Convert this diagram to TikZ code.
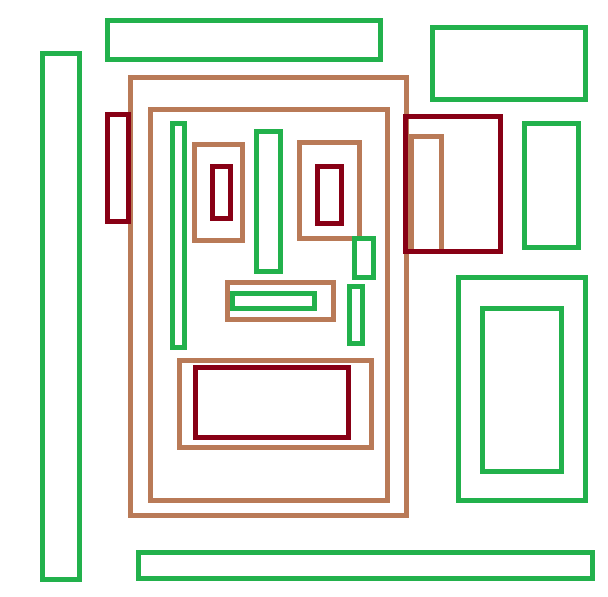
\documentclass[tikz,border=0pt]{standalone}
\definecolor{pgreen}{RGB}{34,177,76}
\definecolor{pbrown}{RGB}{185,122,87}
\definecolor{pred}{RGB}{136,0,21}
\begin{document}
\begin{tikzpicture}[x=1pt,y=-1pt,
  gbox/.style={draw=pgreen,line width=5pt},
  bbox/.style={draw=pbrown,line width=5pt},
  rbox/.style={draw=pred,line width=5pt}]
\fill[white] (0,0) rectangle (608,597);
\useasboundingbox (0,0) rectangle (608,597);
% brown
\draw[bbox] (130.5,77.5) rectangle (406.5,515.5);
\draw[bbox] (150.5,109.5) rectangle (387.5,500.5);
\draw[bbox] (194.5,144.5) rectangle (242.5,240.5);
\draw[bbox] (299.5,142.5) rectangle (359.5,238.5);
\draw[bbox] (227.5,282.5) rectangle (333.5,319.5);
\draw[bbox] (179.5,360.5) rectangle (371.5,447.5);
\draw[bbox] (411.5,136.5) rectangle (441.5,251.5);
% green
\draw[gbox] (42.5,53.5) rectangle (79.5,579.5);
\draw[gbox] (107.5,20.5) rectangle (380.5,59.5);
\draw[gbox] (432.5,27.5) rectangle (585.5,99.5);
\draw[gbox] (524.5,123.5) rectangle (578,247.5);
\draw[gbox] (458.5,277.5) rectangle (585.5,500.5);
\draw[gbox] (482.5,308.5) rectangle (561.5,471.5);
\draw[gbox] (138.5,552.5) rectangle (592.5,578.5);
\draw[gbox] (172.5,123.5) rectangle (184.5,347.5);
\draw[gbox] (256.5,131.5) rectangle (280.5,271.5);
\draw[gbox] (354.5,238.5) rectangle (373.5,277.5);
\draw[gbox] (349.5,286.5) rectangle (362.5,343.5);
\draw[gbox] (232.5,293.5) rectangle (314.5,308.5);
% red
\draw[rbox] (107.5,114.5) rectangle (128.5,221.5);
\draw[rbox] (212.5,166.5) rectangle (230.5,218.5);
\draw[rbox] (317.5,166.5) rectangle (341.5,223.5);
\draw[rbox] (405.5,116.5) rectangle (500.5,251.5);
\draw[rbox] (195.5,367.5) rectangle (348.5,437.5);
\end{tikzpicture}
\end{document}
